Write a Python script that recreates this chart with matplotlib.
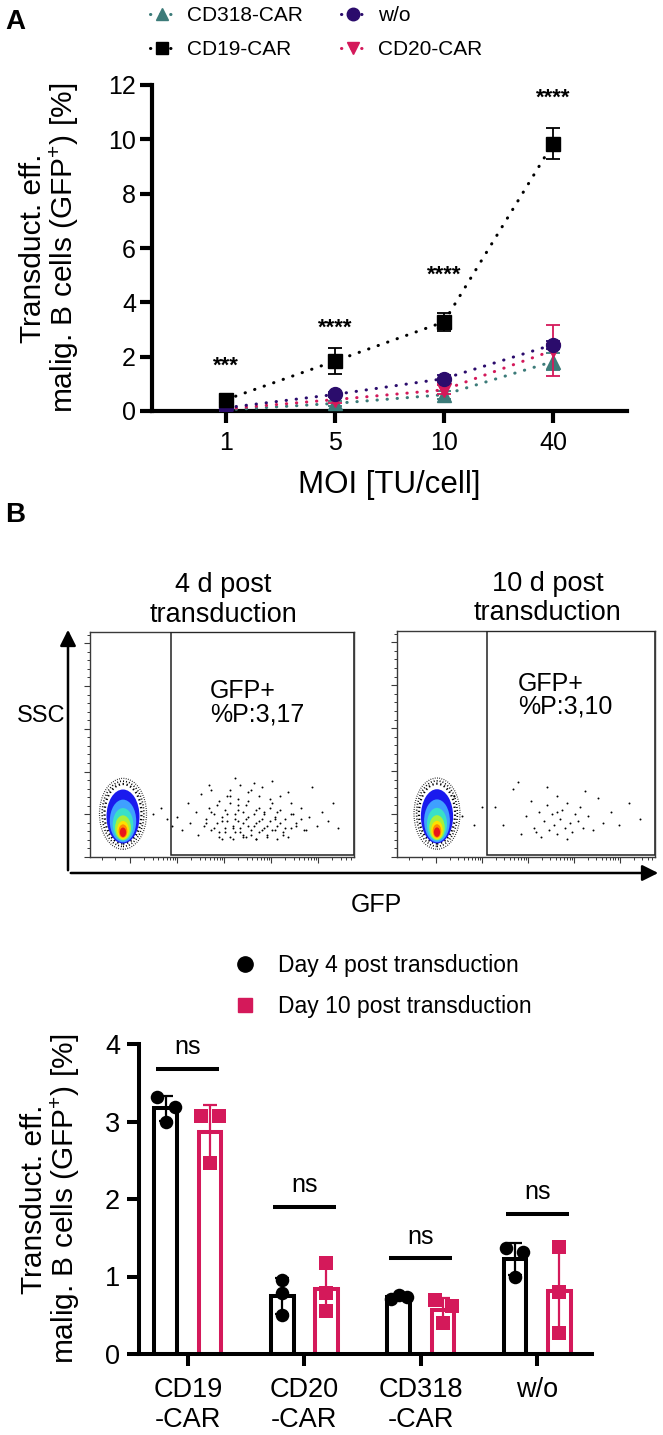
import numpy as np
import matplotlib.pyplot as plt
from matplotlib.lines import Line2D
from matplotlib.patches import Ellipse, Rectangle, FancyArrowPatch

plt.rcParams['font.family'] = ['Liberation Sans', 'DejaVu Sans']
plt.rcParams['mathtext.default'] = 'regular'

# ---- panel A: transduction efficiency vs MOI (mean, SD) ----
moi_labels = ['1', '5', '10', '40']
cd19_mean = [0.42, 1.84, 3.28, 9.84]
cd19_sd = [0.10, 0.47, 0.32, 0.56]
wo_mean = [0.12, 0.61, 1.19, 2.44]
wo_sd = [0.05, 0.09, 0.12, 0.14]
cd20_mean = [0.08, 0.42, 0.78, 2.23]
cd20_sd = [0.04, 0.13, 0.17, 0.94]
cd318_mean = [0.04, 0.28, 0.60, 1.82]
cd318_sd = [0.03, 0.08, 0.14, 0.30]
sig_labels = ['***', '****', '****', '****']
sig_y = [1.65, 3.05, 5.0, 11.5]

# ---- panel B: flow plots (GFP gate) ----
gate_text_4d = 'GFP+\n%P:3,17'
gate_text_10d = 'GFP+\n%P:3,10'
dots_4d_x = [33, 35, 37, 38, 40, 41, 42, 43, 44, 45, 46, 46, 47, 48, 49, 49, 50, 51, 51, 52,
             53, 53, 54, 55, 55, 56, 56, 57, 58, 58, 59, 60, 60, 61, 62, 62, 63, 64, 64, 65,
             66, 66, 67, 68, 69, 70, 70, 71, 72, 73, 74, 75, 76, 77, 78, 80, 81, 83, 84, 86,
             88, 90, 92, 94, 24, 27, 29, 31, 50, 58, 63, 69, 45, 55, 75,
             44, 46, 47, 48, 50, 51, 52, 53, 54, 55, 56, 57, 58, 59, 60, 61, 62, 63, 64, 65,
             66, 67, 68, 69, 70, 71, 72, 73, 74, 76, 78, 80, 82, 52, 56, 60, 64, 68, 72, 76,
             49, 54, 59, 63, 67, 71, 57, 61, 65, 53]
dots_4d_y = [18, 12, 24, 15, 20, 10, 28, 14, 17, 22, 12, 30, 19, 15, 11, 25, 18, 13, 21, 16,
             9, 27, 14, 19, 11, 23, 16, 13, 20, 10, 17, 14, 25, 12, 19, 33, 15, 11, 22, 17,
             13, 20, 10, 16, 24, 12, 18, 14, 21, 11, 17, 29, 13, 19, 15, 22, 12, 18, 31, 14,
             20, 16, 24, 13, 19, 22, 17, 14, 8, 9, 8, 34, 32, 35, 9,
             15, 20, 13, 23, 16, 11, 19, 24, 13, 17, 21, 11, 15, 23, 18, 10, 14, 21, 16, 12,
             19, 14, 22, 12, 17, 20, 15, 10, 13, 19, 14, 17, 12, 27, 26, 29, 27, 26, 27, 24,
             9, 8, 9, 8, 9, 8, 32, 30, 31, 30]
dots_10d_x = [38, 41, 45, 48, 50, 52, 53, 55, 56, 57, 58, 59, 60, 61, 62, 62, 63, 64, 65, 66,
              67, 68, 69, 70, 71, 72, 74, 76, 78, 80, 83, 86, 90, 94, 47, 58, 66, 73, 54, 62,
              22, 25, 30, 33]
dots_10d_y = [22, 14, 30, 10, 18, 25, 13, 20, 9, 16, 23, 12, 19, 14, 27, 10, 17, 21, 13, 24,
              15, 11, 19, 16, 22, 13, 18, 12, 26, 15, 20, 14, 24, 17, 33, 31, 8, 29, 11, 20,
              27, 18, 14, 22]

# ---- panel B: bar chart replicates ----
car_labels = ['CD19\n-CAR', 'CD20\n-CAR', 'CD318\n-CAR', 'w/o']
day4 = [[3.32, 3.19, 3.00], [0.95, 0.79, 0.50], [0.71, 0.76, 0.73], [1.37, 1.32, 0.99]]
day10 = [[3.07, 3.07, 2.47], [1.17, 0.79, 0.56], [0.70, 0.62, 0.40], [1.38, 0.80, 0.27]]
ns_y = [3.68, 1.90, 1.24, 1.81]

teal = '#3C7B79'
purple = '#2B0C6C'
crimson = '#D4195A'

W, H = 663, 1435
fig = plt.figure(figsize=(W / 100, H / 100), dpi=100)


def box(l, t, r, b):
    return [l / W, 1 - b / H, (r - l) / W, (b - t) / H]


def fpt(x, y):
    return (x / W, 1 - y / H)


ylab = 'Transduct. eff.\nmalig. B cells (GFP$^{+}$) [%]'
dotted = (0, (0.1, 3.2))

# ================= panel A =================
axA = fig.add_axes(box(152, 85, 627, 411))
xa = np.arange(len(moi_labels))
series = [
    ('CD318-CAR', cd318_mean, cd318_sd, teal, '^'),
    ('CD20-CAR', cd20_mean, cd20_sd, crimson, 'v'),
    ('w/o', wo_mean, wo_sd, purple, 'o'),
    ('CD19-CAR', cd19_mean, cd19_sd, 'black', 's'),
]
handles = {}
for z, (lab, m, s, c, mk) in enumerate(series):
    line, caps, bars = axA.errorbar(xa, m, yerr=s, color=c, ls=dotted, lw=2.2, marker=mk,
                                    ms=10, elinewidth=1.3, capsize=5, capthick=1.3,
                                    zorder=3 + z)
    line.set_dash_capstyle('round')
    handles[lab] = Line2D([], [], color=c, ls=dotted, lw=2.2, marker=mk, ms=9,
                          dash_capstyle='round')

for i, (s, y) in enumerate(zip(sig_labels, sig_y)):
    axA.text(i, y, s, ha='center', va='center', fontsize=16, fontweight='bold')

axA.set_xlim(-0.68, 3.68)
axA.set_ylim(0, 12)
axA.set_yticks(np.arange(0, 13, 2))
axA.set_xticks(xa, moi_labels)
for sp in ['top', 'right']:
    axA.spines[sp].set_visible(False)
for sp in ['left', 'bottom']:
    axA.spines[sp].set_linewidth(3)
axA.tick_params(length=8.5, width=3, labelsize=18, pad=3)
axA.tick_params(axis='x', pad=6)
axA.set_xlabel('MOI [TU/cell]', fontsize=22.5)
axA.xaxis.set_label_coords(0.5, -0.228)
axA.xaxis.label.set_va('center')
axA.set_ylabel(ylab, fontsize=21.5, linespacing=1.0)
axA.yaxis.set_label_coords(-0.215, 0.5)
axA.yaxis.label.set_va('center')

fig.legend(handles=[handles['CD318-CAR'], handles['CD19-CAR'], handles['w/o'], handles['CD20-CAR']],
           labels=['CD318-CAR', 'CD19-CAR', 'w/o', 'CD20-CAR'],
           ncol=2, loc='upper left', bbox_to_anchor=fpt(140, -4), frameon=False,
           fontsize=15, handlelength=1.15, handletextpad=0.6, columnspacing=1.85,
           labelspacing=0.72, borderpad=0)

fig.text(*fpt(15, 22), 'A', fontsize=20, fontweight='bold', ha='center', va='center')
fig.text(*fpt(15, 515), 'B', fontsize=20, fontweight='bold', ha='center', va='center')

# ================= panel B: flow plots =================
blob_layers = [('#1a1aee', 12.5, 24, 18), ('#3fa0ff', 10, 19, 16), ('#39e0c8', 7.8, 14.5, 14.5),
               ('#a8f03c', 6, 11, 13), ('#ffe000', 4.5, 8, 12), ('#ff8a00', 3.3, 6, 11.5),
               ('#e8161a', 2.4, 4.2, 11)]
halo_rings = [(14.0, 26.5, 1.6), (15.8, 29.0, 1.2), (17.8, 31.5, 0.9)]
decades = [15.2, 33.0, 50.8, 68.6, 86.4]
dec_w = 17.8


def flow_panel(rect, title, title_x, gate_x, gate_text, text_xy, blob_x, dx, dy):
    ax = fig.add_axes(rect)
    ax.set_xlim(0, 100)
    ax.set_ylim(0, 100)
    for sp in ax.spines.values():
        sp.set_linewidth(1.0)
        sp.set_color('#3a3a3a')
    ax.set_yticks(np.arange(0, 100, 19))
    ax.set_yticks(np.arange(0, 100, 3.8), minor=True)
    minor_x = [4.5, 9.5]
    for d in decades:
        minor_x += [d + dec_w * np.log10(k) for k in range(2, 10) if d + dec_w * np.log10(k) < 99]
    ax.set_xticks(decades)
    ax.set_xticks(minor_x, minor=True)
    ax.tick_params(which='major', length=4, width=0.8, color='#3a3a3a',
                   labelbottom=False, labelleft=False)
    ax.tick_params(which='minor', length=2.5, width=0.7, color='#3a3a3a')
    ax.add_patch(Rectangle((gate_x, 0.8), 100 - gate_x, 99.2, fill=False,
                           ec='#222222', lw=1.1, zorder=5))
    ax.scatter(dx, dy, s=2, c='black', lw=0, zorder=2)
    for w, h, lw in halo_rings:
        ax.add_patch(Ellipse((blob_x, 19.2), w, h, fc='none', ec='black', lw=lw,
                             ls=(0, (0.6, 1.2)), zorder=2))
    for c, w, h, cy in blob_layers:
        ax.add_patch(Ellipse((blob_x, cy), w, h, fc=c, ec='none', zorder=3))
    ax.text(text_xy[0], text_xy[1], gate_text, fontsize=18, ha='left', va='top',
            linespacing=0.95, transform=ax.transAxes)
    ax.text(title_x, 1.02, title, fontsize=19.5, ha='center', va='bottom',
            linespacing=1.15, transform=ax.transAxes)
    return ax


flow_panel(box(90, 632, 354, 857), '4 d post\ntransduction', 0.504, 30.7,
           gate_text_4d, (0.455, 0.79), 12.5, dots_4d_x, dots_4d_y)
flow_panel(box(397, 631, 655, 857), '10 d post\ntransduction', 0.585, 34.9,
           gate_text_10d, (0.469, 0.82), 15.5, dots_10d_x, dots_10d_y)

for a, b in [((68, 873), (68, 627)), ((68, 873), (661, 873))]:
    fig.add_artist(FancyArrowPatch(fpt(*a), fpt(*b), arrowstyle='-|>', mutation_scale=24,
                                   lw=1.8, color='black', transform=fig.transFigure))
fig.text(*fpt(41, 716), 'SSC', fontsize=17, ha='center', va='center')
fig.text(*fpt(376, 905), 'GFP', fontsize=18, ha='center', va='center')

# ================= panel B: bar chart =================
axB = fig.add_axes(box(139, 1044, 592, 1354))
xb = np.arange(len(car_labels))
off, bw = 0.19, 0.195
jit4 = [[-0.073, 0.082, 0], [0, 0, 0], [-0.07, 0, 0.07], [-0.077, 0.07, 0]]
jit10 = [[-0.08, 0.077, 0], [0, 0, 0], [-0.07, 0.075, 0], [0, 0, 0]]
for reps, sign, c, mk, jit in [(day4, -1, 'black', 'o', jit4), (day10, 1, crimson, 's', jit10)]:
    means = [np.mean(r) for r in reps]
    sds = [np.std(r, ddof=1) for r in reps]
    pos = xb + sign * off
    axB.bar(pos, means, width=bw, facecolor='white', edgecolor=c, lw=2.9, zorder=2)
    axB.errorbar(pos, means, yerr=sds, fmt='none', ecolor=c, elinewidth=1.6,
                 capsize=5, capthick=1.6, zorder=3)
    for p, r, j in zip(pos, reps, jit):
        axB.scatter(p + np.array(j), r, marker=mk, s=95 if mk == 'o' else 90,
                    color=c, lw=0, zorder=4)

for i, y in enumerate(ns_y):
    axB.plot([i - 0.27, i + 0.27], [y, y], color='black', lw=2.9, solid_capstyle='butt')
    axB.text(i, y + 0.12, 'ns', ha='center', va='bottom', fontsize=18)

axB.set_xlim(-0.42, 3.47)
axB.set_ylim(0, 4)
axB.set_yticks(np.arange(0, 5, 1))
axB.set_xticks(xb, car_labels)
for sp in ['top', 'right']:
    axB.spines[sp].set_visible(False)
for sp in ['left', 'bottom']:
    axB.spines[sp].set_linewidth(2.9)
axB.tick_params(length=8.5, width=2.9, labelsize=19.5, pad=5)
axB.tick_params(axis='x', pad=8)
axB.set_ylabel(ylab, fontsize=21.5, linespacing=1.0)
axB.yaxis.set_label_coords(-0.195, 0.5)
axB.yaxis.label.set_va('center')

fig.legend(handles=[Line2D([], [], marker='o', color='black', ls='none', ms=11),
                    Line2D([], [], marker='s', color=crimson, ls='none', ms=10)],
           labels=['Day 4 post transduction', 'Day 10 post transduction'],
           loc='upper left', bbox_to_anchor=fpt(224, 943), frameon=False, fontsize=16.5,
           handlelength=0.85, handletextpad=1.0, labelspacing=0.75, borderpad=0)

fig.savefig('out.png', dpi=100)
